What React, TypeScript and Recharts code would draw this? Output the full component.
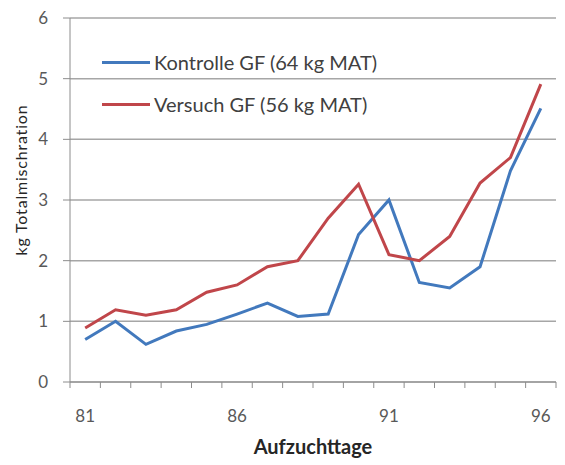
import { LineChart, Line, XAxis, YAxis, CartesianGrid, Legend } from 'recharts'

const days = [81, 82, 83, 84, 85, 86, 87, 88, 89, 90, 91, 92, 93, 94, 95, 96]
const kontrolle = [0.7, 1.0, 0.62, 0.84, 0.95, 1.12, 1.3, 1.08, 1.12, 2.43, 3.0, 1.64, 1.55, 1.9, 3.48, 4.51]
const versuch = [0.89, 1.19, 1.1, 1.19, 1.48, 1.6, 1.9, 2.0, 2.7, 3.26, 2.1, 2.0, 2.4, 3.28, 3.7, 4.91]
const xLabels = [81, 86, 91, 96]
const yTicks = [0, 1, 2, 3, 4, 5, 6]
const tickBounds = [...days.map(d => d - 0.5), days[days.length - 1] + 0.5]

const data = days.map((d, i) => ({ day: d, kontrolle: kontrolle[i], versuch: versuch[i] }))

const series = [
  { key: 'kontrolle', name: 'Kontrolle GF (64 kg MAT)', color: '#4279bd' },
  { key: 'versuch', name: 'Versuch GF (56 kg MAT)', color: '#c0464a' },
]

const FONT = 'Lato, "Open Sans", sans-serif'

// ticks sit on the day boundaries, labels go in the middle of the day
function DayTick(props: any) {
  const { x, y, width, payload } = props
  const mid = payload.value + 0.5
  if (!xLabels.includes(mid)) return <g />
  const half = width / days.length / 2
  return (
    <text x={x + half} y={y} dy="0.71em" textAnchor="middle" fill="#595959" fontSize={17} fontFamily={FONT}>
      {mid}
    </text>
  )
}

function LegendBox() {
  return (
    <div style={{ fontFamily: FONT, fontSize: 20, color: '#404040' }}>
      {series.map(s => (
        <div key={s.key} style={{ display: 'flex', alignItems: 'center', height: 42 }}>
          <span style={{ display: 'inline-block', width: 48, height: 3, background: s.color, marginRight: 4 }} />
          <span>{s.name}</span>
        </div>
      ))}
    </div>
  )
}

export default function App() {
  return (
    <div style={{ position: 'absolute', left: 0, top: 0, width: 565, height: 465, background: '#fff' }}>
      <LineChart
        width={565}
        height={465}
        data={data}
        margin={{ top: 18, right: 9, left: 0, bottom: 0 }}
        style={{ fontFamily: FONT }}
      >
        <CartesianGrid vertical={false} stroke="#a6a6a6" strokeWidth={1.5} />
        <XAxis
          dataKey="day"
          type="number"
          domain={[80.5, 96.5]}
          ticks={tickBounds}
          interval={0}
          height={83}
          tickSize={6}
          tickMargin={22}
          stroke="#8c8c8c"
          tick={<DayTick />}
          label={{ value: 'Aufzuchttage', position: 'insideBottom', offset: 11, fill: '#262626', fontSize: 20, fontWeight: 700 }}
        />
        <YAxis
          domain={[0, 6]}
          ticks={yTicks}
          width={70}
          tickSize={7}
          tickMargin={15}
          stroke="#8c8c8c"
          tick={{ fill: '#595959', fontSize: 17 }}
          label={{
            value: 'kg Totalmischration', angle: -90, position: 'insideLeft', offset: 21, dy: -20,
            textAnchor: 'middle', fill: '#262626', fontSize: 16, letterSpacing: 0.8,
          }}
        />
        <Legend
          layout="vertical"
          align="center"
          verticalAlign="middle"
          content={<LegendBox />}
          wrapperStyle={{ left: 102, top: 41, width: 'auto' }}
        />
        {series.map(s => (
          <Line
            key={s.key}
            type="linear"
            dataKey={s.key}
            name={s.name}
            stroke={s.color}
            strokeWidth={3}
            dot={false}
            isAnimationActive={false}
          />
        ))}
      </LineChart>
    </div>
  )
}
